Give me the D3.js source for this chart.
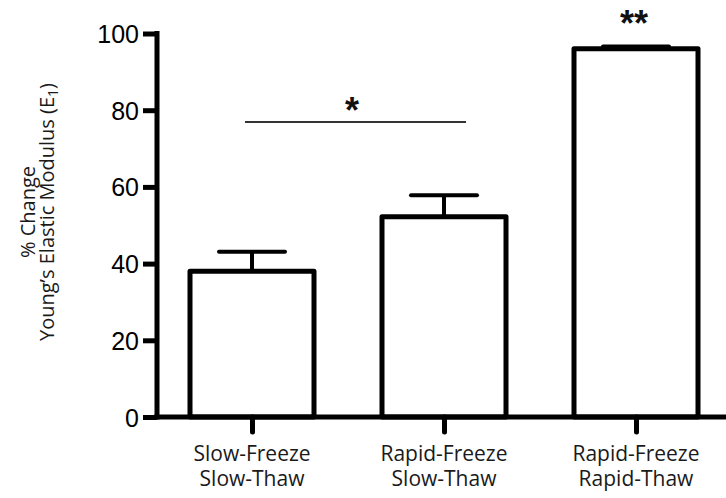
<!DOCTYPE html>
<html lang="en">
    <head>
        <meta charset="utf-8">
        <title>Young's Elastic Modulus</title>
        <style type="text/css">
            body { margin: 0; background: #fff; }
            .axis path, .axis line { stroke: #000; stroke-width: 5; }
            .axis text { font-family: "Liberation Sans", Arial, sans-serif; font-size: 25px; fill: #000; }
            .cat { font-family: "Open Sans", sans-serif; font-size: 21px; fill: #1a1a1a; }
            .ytitle { font-family: "Open Sans", sans-serif; font-size: 20px; fill: #1a1a1a; }
            .sig { font-family: "Liberation Sans", Arial, sans-serif; font-size: 36px; font-weight: bold; fill: #111; }
        </style>
    </head>
    <body>

<script src="https://cdn.jsdelivr.net/npm/d3@7"></script>
<script>

    var w = 726;
    var h = 498;

    // data
    var groups = ["SF-ST", "RF-ST", "RF-RT"];
    var labelTop = ["Slow-Freeze", "Rapid-Freeze", "Rapid-Freeze"];
    var labelBottom = ["Slow-Thaw", "Slow-Thaw", "Rapid-Thaw"];
    var means = [38, 52.2, 96];
    var errs = [5.1, 5.6, 0.6];
    var yTicks = [0, 20, 40, 60, 80, 100];
    var marks = ["*", "**"];

    var svg = d3.select("body")
            .append("svg")
            .attr("width", w)
            .attr("height", h);

    var y = d3.scaleLinear().domain([0, 100]).range([417, 33.5]);
    var x = d3.scalePoint().domain(groups).range([156, 732]).padding(0.5);
    var barW = 124;
    var capW = 66;

    //bars
    svg.selectAll("rect.bar")
        .data(means)
        .enter()
        .append("rect")
        .attr("class", "bar")
        .attr("x", function(d, i) { return x(groups[i]) - barW / 2; })
        .attr("y", function(d) { return y(d); })
        .attr("width", barW)
        .attr("height", function(d) { return y(0) - y(d); })
        .attr("fill", "#fff")
        .attr("stroke", "#000")
        .attr("stroke-width", 5)
        .attr("stroke-linejoin", "round");

    //error bars (upper only)
    svg.selectAll("line.stem")
        .data(means)
        .enter()
        .append("line")
        .attr("x1", function(d, i) { return x(groups[i]); })
        .attr("x2", function(d, i) { return x(groups[i]); })
        .attr("y1", function(d) { return y(d); })
        .attr("y2", function(d, i) { return y(d + errs[i]); })
        .attr("stroke", "#000")
        .attr("stroke-width", 4);

    svg.selectAll("line.cap")
        .data(means)
        .enter()
        .append("line")
        .attr("x1", function(d, i) { return x(groups[i]) - capW / 2; })
        .attr("x2", function(d, i) { return x(groups[i]) + capW / 2; })
        .attr("y1", function(d, i) { return y(d + errs[i]); })
        .attr("y2", function(d, i) { return y(d + errs[i]); })
        .attr("stroke", "#000")
        .attr("stroke-width", 4)
        .attr("stroke-linecap", "round");

    //axes
    svg.append("g")
        .attr("class", "axis")
        .attr("transform", "translate(0," + y(0) + ")")
        .call(d3.axisBottom(x).tickSize(15).tickSizeOuter(0).tickFormat(""))
        .call(function(g) {
            g.select(".domain").attr("d", "M154,0H" + w);
            g.selectAll(".tick line").attr("stroke-linecap", "round");
        });

    svg.append("g")
        .attr("class", "axis")
        .attr("transform", "translate(157,0)")
        .call(d3.axisLeft(y).tickValues(yTicks).tickSize(14).tickSizeOuter(0).tickPadding(4))
        .call(function(g) {
            g.select(".domain").attr("d", "M0," + (y(100) - 2.5) + "V" + (y(0) + 2.5));
            g.selectAll(".tick text").attr("dy", "0.36em");
        });

    //category labels
    var cats = svg.selectAll("text.cat")
        .data(groups)
        .enter()
        .append("text")
        .attr("class", "cat")
        .attr("text-anchor", "middle");
    cats.append("tspan")
        .attr("x", function(d) { return x(d); })
        .attr("y", 461)
        .text(function(d, i) { return labelTop[i]; });
    cats.append("tspan")
        .attr("x", function(d) { return x(d); })
        .attr("y", 486)
        .text(function(d, i) { return labelBottom[i]; });

    //y title
    var yt = svg.append("g").attr("transform", "translate(0,212) rotate(-90)");
    yt.append("text")
        .attr("class", "ytitle")
        .attr("text-anchor", "middle")
        .attr("y", 35)
        .text("% Change");
    var t2 = yt.append("text")
        .attr("class", "ytitle")
        .attr("text-anchor", "middle")
        .attr("y", 54);
    t2.append("tspan").text("Young\u2019s Elastic Modulus (E");
    t2.append("tspan").attr("font-size", "14px").attr("dy", 4).text("1");
    t2.append("tspan").attr("dy", -4).text(")");

    //significance
    svg.append("line")
        .attr("x1", x(groups[0]) - 7)
        .attr("x2", x(groups[1]) + 22)
        .attr("y1", y(76.9))
        .attr("y2", y(76.9))
        .attr("stroke", "#333")
        .attr("stroke-width", 2);

    svg.append("text")
        .attr("class", "sig")
        .attr("x", 352)
        .attr("y", 123)
        .attr("text-anchor", "middle")
        .text(marks[0]);

    svg.append("text")
        .attr("class", "sig")
        .attr("x", x(groups[2]) - 2)
        .attr("y", 36)
        .attr("text-anchor", "middle")
        .text(marks[1]);

</script>

    </body>
</html>
